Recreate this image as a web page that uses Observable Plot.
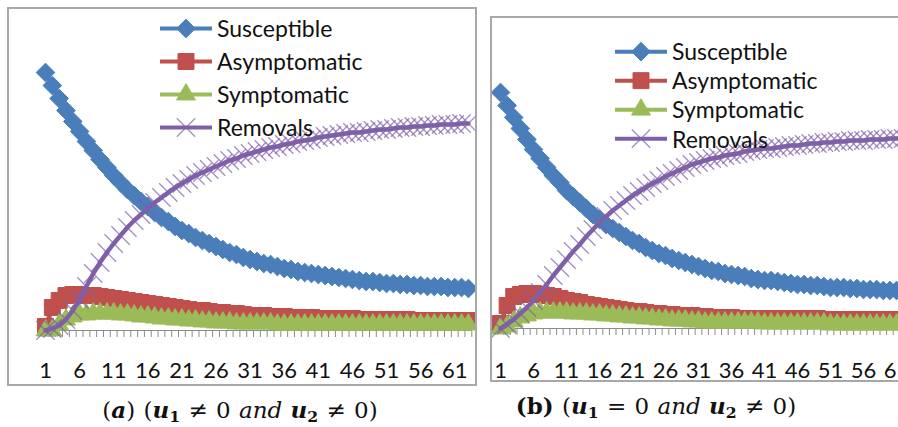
<!DOCTYPE html>
<html><head><meta charset="utf-8">
<script src="https://cdn.jsdelivr.net/npm/d3@7"></script>
<script src="https://cdn.jsdelivr.net/npm/@observablehq/plot@0.6"></script>
<style>
html,body{margin:0;padding:0;background:#fff}
body{position:relative;width:898px;height:427px;overflow:hidden;font-family:Lato,"Open Sans",sans-serif;color:#111}
.frame{position:absolute;box-sizing:border-box;border:2px solid #a8a8a8;overflow:hidden;background:#fff}
.frame svg{position:absolute;left:0;top:0}
.legend{position:absolute;font-size:23px;line-height:1;color:#111}
.legend .row{display:flex;align-items:center}
.legend .row span{margin-left:5px}
.legend svg{display:block;flex:none;overflow:visible}
.cap{position:absolute;font-family:"DejaVu Serif",serif;font-size:23px;white-space:nowrap;transform:translate(-50%,-50%);color:#111;word-spacing:1px}
.cap sub{font-size:0.68em;vertical-align:-0.3em;line-height:0}
</style></head><body>
<div id="fa" class="frame" style="left:7px;top:7px;width:470px;height:379px"></div>
<div id="fb" class="frame" style="left:490px;top:16px;width:444px;height:366px"></div>
<div id="la" class="legend" style="left:160px;top:11.5px"></div>
<div id="lb" class="legend" style="left:615px;top:36.5px"></div>
<div class="cap" style="left:240px;top:409px">(<b><i>a</i></b>) (<b><i>u</i><sub>1</sub></b> ≠ 0 <i>and</i> <b><i>u</i><sub>2</sub></b> ≠ 0)</div>
<div class="cap" style="left:656px;top:405px"><b>(b)</b> (<b><i>u</i><sub>1</sub></b> = 0 <i>and</i> <b><i>u</i><sub>2</sub></b> ≠ 0)</div>
<script>
// ---- data ----
const steps = [1,2,3,4,5,6,7,8,9,10,11,12,13,14,15,16,17,18,19,20,21,22,23,24,25,26,27,28,29,30,31,32,33,34,35,36,37,38,39,40,41,42,43,44,45,46,47,48,49,50,51,52,53,54,55,56,57,58,59,60,61,62,63];
const tickValues = [1,6,11,16,21,26,31,36,41,46,51,56,61];
const tickLabels = ["1","6","11","16","21","26","31","36","41","46","51","56","61"];
const seriesNames = ["Susceptible","Asymptomatic","Symptomatic","Removals"];
const seriesColors = ["#4A7EBB","#C0504D","#9BBB59","#7F60A8"];
const seriesSymbols = ["diamond2","square","triangle","times"];
const markerR = [8.4, 9, 7, 8.4];

// panel (a): u1 != 0 and u2 != 0
const susceptibleA = [258,245,232,220,209,199,189,180,171,163,155,148,141,135,129,124,118,113,109,104,100,97,93,90,87,84,81,78,76,73,71,69,67,66,64,62,61,59,58,57,56,55,54,53,52,51,50,49,49,48,47,47,46,46,45,45,44,44,44,43,43,43,42];
const asymptomaticA = [4,23,30,35,36,36,35,35,34,33,32,31,30,29,28,27,26,25,24,23,22,21,20,20,19,18,18,17,17,16,15,15,15,14,14,14,13,13,13,13,12,12,12,12,12,12,11,11,11,11,11,11,11,11,10,10,10,10,10,10,10,10,10];
const symptomaticA = [0,0,6,11,14,16,16,17,17,17,17,16,16,15,14,14,13,12,12,11,11,10,10,9,9,8,8,8,7,7,7,7,7,7,6,6,6,6,6,6,6,6,6,6,6,6,6,6,6,6,6,6,6,6,6,6,6,6,6,6,6,6,6];
const removalsA = [0,2,5,11,20,31,44,57,68,78,87,95,103,110,116,122,128,133,138,143,147,151,155,158,161,164,167,170,172,175,177,179,181,183,184,186,187,189,190,191,193,194,195,196,197,198,198,199,200,201,201,202,203,203,204,204,205,205,206,206,206,207,207];

// panel (b): u1 = 0 and u2 != 0
const susceptibleB = [236,223,211,200,189,179,170,161,153,146,138,132,126,120,114,109,104,100,96,92,88,85,81,78,75,73,70,68,66,64,62,60,58,57,55,54,53,52,50,49,48,48,47,46,45,44,44,43,43,42,41,41,41,40,40,39,39,39,38,38,38,38,37];
const asymptomaticB = [5,23,32,34,35,35,34,33,32,30,28,27,26,24,23,22,21,20,19,18,17,17,16,15,15,14,14,13,13,13,12,12,11,11,11,11,10,10,10,10,10,10,10,10,10,10,10,10,10,9,9,9,9,9,9,9,9,9,9,9,9,9,9];
const symptomaticB = [0,2,7,11,13,15,16,16,16,16,16,15,15,15,14,14,13,13,12,12,11,11,10,10,9,9,8,8,8,7,7,6,6,6,6,6,6,6,6,6,5,5,5,5,5,5,5,5,5,5,4,4,4,4,4,4,4,4,4,4,4,4,4];
const removalsB = [0,4,9,15,21,28,36,44,53,61,69,77,84,92,99,106,112,118,123,128,133,137,141,145,148,152,155,158,161,164,166,168,170,171,173,174,175,177,178,179,180,180,181,182,183,183,184,185,185,186,186,187,187,188,188,188,189,189,189,190,190,190,191];

const boundaries = steps.map(s => s - 0.5).concat([steps[steps.length - 1] + 0.5]);

function panel(seriesValues, o) {
  const marks = [
    Plot.ruleY([0], {stroke: "#8c8c8c"}),
    Plot.axisX({ticks: boundaries, tickSize: 7, tickFormat: () => "", stroke: "#8c8c8c", label: null}),
    Plot.axisX({ticks: tickValues, tickSize: 0, tickPadding: o.pad, tickFormat: d => tickLabels[tickValues.indexOf(d)], fontSize: 22, label: null, fill: "#111"})
  ];
  seriesValues.forEach((vals, k) => {
    const data = steps.map((t, i) => ({t, v: vals[i]}));
    const c = seriesColors[k];
    const line = Plot.line(data, {x: "t", y: "v", stroke: c, strokeWidth: 4.5});
    if (seriesSymbols[k] === "times") {
      marks.push(Plot.dot(data, {x: "t", y: "v", symbol: "times", r: markerR[k], stroke: c, strokeWidth: 1.3, strokeOpacity: 0.7, fill: "none"}));
      marks.push(line);
    } else {
      marks.push(line);
      marks.push(Plot.dot(data, {x: "t", y: "v", symbol: seriesSymbols[k], r: markerR[k], fill: c, stroke: c, strokeWidth: 1}));
    }
  });
  return Plot.plot({
    width: o.width, height: o.height,
    marginLeft: o.ml, marginRight: o.mr, marginTop: o.mt, marginBottom: o.mb,
    x: {type: "linear", domain: [0.5, 63.5], label: null},
    y: {domain: [0, 300], axis: null},
    style: {fontFamily: "Lato, sans-serif", fontSize: "22px", background: "transparent", color: "#111", overflow: "visible"},
    marks
  });
}

document.getElementById("fa").appendChild(panel([susceptibleA, asymptomaticA, symptomaticA, removalsA],
  {width: 466, height: 375, ml: 32.6, mr: 3.7, mt: 21, mb: 54, pad: 32}));
document.getElementById("fb").appendChild(panel([susceptibleB, asymptomaticB, symptomaticB, removalsB],
  {width: 440, height: 362, ml: 4.7, mr: 19.5, mt: 10, mb: 52, pad: 34}));

const symbolMap = {diamond2: d3.symbolDiamond2, square: d3.symbolSquare, triangle: d3.symbolTriangle, times: d3.symbolTimes};
function legend(id, rowH) {
  const el = document.getElementById(id);
  seriesNames.forEach((name, k) => {
    const row = document.createElement("div");
    row.className = "row";
    row.style.height = rowH + "px";
    const w = 52, c = seriesColors[k];
    const svg = d3.create("svg").attr("width", w).attr("height", rowH);
    const path = d3.symbol(symbolMap[seriesSymbols[k]], Math.PI * markerR[k] ** 2)();
    if (seriesSymbols[k] === "times") {
      svg.append("path").attr("transform", `translate(${w / 2},${rowH / 2})`).attr("d", path)
        .attr("fill", "none").attr("stroke", c).attr("stroke-width", 1.3).attr("stroke-opacity", 0.7);
    }
    svg.append("line").attr("x1", 0).attr("x2", w).attr("y1", rowH / 2).attr("y2", rowH / 2).attr("stroke", c).attr("stroke-width", 4);
    if (seriesSymbols[k] !== "times") {
      svg.append("path").attr("transform", `translate(${w / 2},${rowH / 2})`).attr("d", path).attr("fill", c).attr("stroke", c);
    }
    row.appendChild(svg.node());
    const span = document.createElement("span");
    span.textContent = name;
    row.appendChild(span);
    el.appendChild(row);
  });
}
legend("la", 33);
legend("lb", 29.3);
</script>
</body></html>
